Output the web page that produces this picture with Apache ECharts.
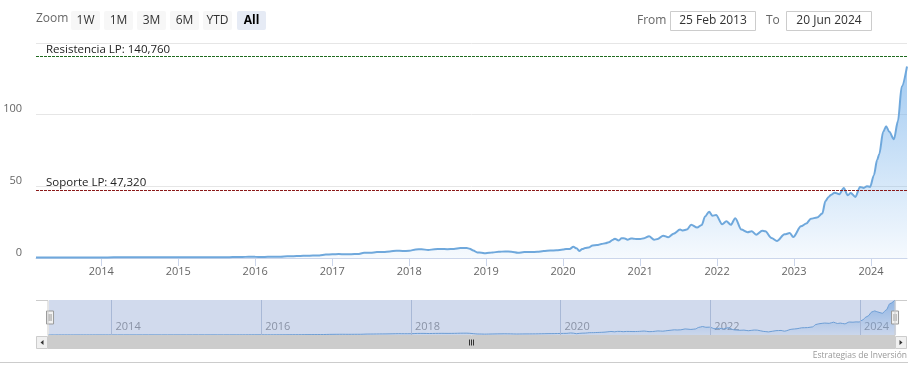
<!DOCTYPE html>
<html>
<head>
<meta charset="utf-8">
<script src="https://cdn.jsdelivr.net/npm/echarts@6/dist/echarts.min.js"></script>
<style>
html,body{margin:0;padding:0;background:#fff;}
#chart{width:914px;height:376px;}
</style>
</head>
<body>
<div id="chart"></div>
<script>
// ---- data ----
const datesEarly = ['2013-02-25','2013-04-01','2013-05-01','2013-06-01','2013-07-01','2013-08-01','2013-09-01','2013-10-01','2013-11-01','2013-12-01',
  '2014-01-01','2014-03-01','2014-05-01','2014-07-01','2014-09-01','2014-11-01',
  '2015-01-01','2015-03-01','2015-05-01','2015-07-01','2015-09-01','2015-10-01','2015-11-01','2015-12-01'];
const pricesEarly = [0.31,0.32,0.34,0.36,0.35,0.36,0.37,0.38,0.39,0.39,
  0.40,0.45,0.46,0.48,0.46,0.48,
  0.50,0.54,0.55,0.50,0.58,0.65,0.75,0.82];

const datesMid = ['2016-01-01','2016-02-01','2016-03-01','2016-04-01','2016-05-01','2016-06-01','2016-07-01','2016-08-01','2016-09-01','2016-10-01','2016-11-01','2016-12-01',
  '2017-01-01','2017-02-01','2017-03-01','2017-04-01','2017-05-01','2017-06-01','2017-07-01','2017-08-01','2017-09-01','2017-10-01','2017-11-01','2017-12-01',
  '2018-01-01','2018-02-01','2018-03-01','2018-04-01','2018-05-01','2018-06-01','2018-07-01','2018-08-01','2018-09-01','2018-10-01','2018-10-15','2018-11-01','2018-11-20','2018-12-10','2018-12-26',
  '2019-01-15','2019-02-01','2019-03-01','2019-04-01','2019-05-01','2019-06-01','2019-07-01','2019-08-01','2019-09-01','2019-10-01','2019-11-01','2019-12-01'];
const pricesMid = [0.80,0.73,0.80,0.88,0.92,1.15,1.25,1.45,1.55,1.70,1.80,2.40,
  2.65,2.75,2.60,2.70,2.80,3.60,3.70,4.10,4.20,4.60,5.10,4.90,
  5.0,6.0,6.1,5.6,6.1,6.3,6.1,6.3,6.9,7.0,6.5,5.2,3.9,3.7,3.3,
  3.6,3.9,4.3,4.6,4.4,3.7,4.1,4.2,4.3,4.8,5.2,5.4];

const dates2020 = ['2020-01-01','2020-01-15','2020-02-01','2020-02-19','2020-03-05','2020-03-18','2020-04-01','2020-04-15','2020-05-01','2020-05-20','2020-06-10','2020-07-01','2020-07-20','2020-08-05','2020-08-25','2020-09-03','2020-09-21','2020-10-05','2020-10-20','2020-11-02','2020-11-18','2020-12-01','2020-12-15'];
const prices2020 = [5.9,6.2,6.3,7.8,6.8,4.9,6.2,7.0,7.3,8.8,9.0,9.7,10.3,11.0,12.8,13.5,12.2,13.8,13.6,12.7,13.6,13.5,13.2];

const dates2122 = ['2021-01-01','2021-01-20','2021-02-12','2021-03-08','2021-03-25','2021-04-20','2021-05-14','2021-06-08','2021-07-09','2021-07-23','2021-08-10','2021-08-31','2021-09-28','2021-10-20','2021-11-05','2021-11-24','2021-12-10','2021-12-27',
  '2022-01-25','2022-02-14','2022-03-07','2022-03-28','2022-04-26','2022-05-25','2022-06-14','2022-07-05','2022-08-03','2022-08-18','2022-09-16','2022-10-12','2022-11-17','2022-12-12','2022-12-28'];
const prices2122 = [13.2,13.8,15.2,12.8,13.2,15.6,14.5,17.0,19.8,19.2,19.8,23.2,21.2,23.0,29.0,32.3,29.5,30.0,
  23.5,25.6,23.2,27.8,19.8,18.0,18.7,16.3,19.0,18.6,13.9,11.8,16.5,17.4,14.6];

const dates2324 = ['2023-02-03','2023-02-28','2023-03-22','2023-04-20','2023-05-15','2023-05-30','2023-06-14','2023-06-25','2023-07-13','2023-08-04','2023-08-25','2023-09-13','2023-09-27','2023-10-19','2023-11-10','2023-11-28','2023-12-13','2023-12-28',
  '2024-01-15','2024-01-30','2024-02-09','2024-02-28','2024-03-13','2024-03-28','2024-04-19','2024-05-08','2024-05-26','2024-06-20'];
const prices2324 = [22.1,24.0,27.4,28.2,31.0,39.8,42.6,44.0,45.6,44.5,48.9,43.8,45.4,42.6,49.6,48.9,50.1,49.6,
  57.8,68.3,72.3,88.0,92.0,88.0,82.8,95.5,119.6,133.6];

const mainYearTicks = [2014,2015,2016,2017,2018,2019,2020,2021,2022,2023,2024];
const navYearTicks = [2014,2016,2018,2020,2022,2024];
const resistance = 140.76, resistanceLabel = 'Resistencia LP: 140,760';
const support = 47.32, supportLabel = 'Soporte LP: 47,320';
const fromLabel = '25 Feb 2013', toLabel = '20 Jun 2024';
const zoomButtons = ['1W','1M','3M','6M','YTD','All'];
const creditText = 'Estrategias de Inversión';

// ---- build ----
const allDates = [].concat(datesEarly, datesMid, dates2020, dates2122, dates2324);
const allPrices = [].concat(pricesEarly, pricesMid, prices2020, prices2122, prices2324);
const seriesData = allDates.map((d, i) => [Date.parse(d + 'T00:00:00Z'), allPrices[i]]);
const xMin = Date.UTC(2013, 1, 25), xMax = Date.UTC(2024, 5, 20);
const yearTs = y => Date.UTC(y, 0, 1);
const yearFmt = v => String(new Date(v).getUTCFullYear());

const FONT = '"Open Sans", "DejaVu Sans", sans-serif';
const lineColor = '#6fa8dc';
const areaGrad = () => new echarts.graphic.LinearGradient(0, 0, 0, 1, [
  {offset: 0, color: 'rgba(124,181,236,1)'},
  {offset: 1, color: 'rgba(124,181,236,0.1)'}
]);

const graphics = [];
graphics.push({type:'text', left:36, top:13, style:{text:'Zoom', fill:'#666', font:'12px ' + FONT}});
const btnX = [71,104,137,170,203,237];
zoomButtons.forEach((b, i) => {
  const sel = b === 'All';
  graphics.push({type:'rect', shape:{x:btnX[i], y:11, width:29, height:19, r:2}, style:{fill: sel ? '#e6ebf5' : '#f7f7f7'}});
  graphics.push({type:'text', x:btnX[i] + 14.5, y:20.5, style:{text:b, fill: sel ? '#000' : '#333', font:(sel ? 'bold ' : '') + '12px ' + FONT, align:'center', verticalAlign:'middle'}});
});
graphics.push({type:'text', x:637, y:20.5, style:{text:'From', fill:'#666', font:'12px ' + FONT, verticalAlign:'middle'}});
graphics.push({type:'rect', shape:{x:670.5, y:11.5, width:85, height:19}, style:{fill:'#fff', stroke:'#cccccc', lineWidth:1}});
graphics.push({type:'text', x:713, y:21, style:{text:fromLabel, fill:'#333', font:'12px ' + FONT, align:'center', verticalAlign:'middle'}});
graphics.push({type:'text', x:766, y:20.5, style:{text:'To', fill:'#666', font:'12px ' + FONT, verticalAlign:'middle'}});
graphics.push({type:'rect', shape:{x:786.5, y:11.5, width:85, height:19}, style:{fill:'#fff', stroke:'#cccccc', lineWidth:1}});
graphics.push({type:'text', x:829, y:21, style:{text:toLabel, fill:'#333', font:'12px ' + FONT, align:'center', verticalAlign:'middle'}});
// navigator outline
graphics.push({type:'polyline', z:20, shape:{points:[[36,300.5],[48,300.5],[48,335.5],[895,335.5],[895,300.5],[907,300.5]]}, style:{stroke:'#cccccc', lineWidth:1, fill:null}});
// scrollbar
graphics.push({type:'rect', shape:{x:36, y:336, width:871, height:13}, style:{fill:'#f2f2f2'}});
graphics.push({type:'rect', shape:{x:48, y:336, width:847, height:13}, style:{fill:'#cccccc'}});
graphics.push({type:'rect', shape:{x:36.5, y:336.5, width:11, height:12}, style:{fill:'#f0f0f0', stroke:'#cccccc', lineWidth:1}});
graphics.push({type:'rect', shape:{x:895.5, y:336.5, width:11, height:12}, style:{fill:'#f0f0f0', stroke:'#cccccc', lineWidth:1}});
graphics.push({type:'polygon', shape:{points:[[43.5,340],[43.5,345],[40.5,342.5]]}, style:{fill:'#333'}});
graphics.push({type:'polygon', shape:{points:[[899.5,340],[899.5,345],[902.5,342.5]]}, style:{fill:'#333'}});
[469.5,471.5,473.5].forEach(x => graphics.push({type:'line', shape:{x1:x, y1:339.5, x2:x, y2:345.5}, style:{stroke:'#333', lineWidth:1}}));
// credit & bottom border
graphics.push({type:'text', right:7, top:351, style:{text:creditText, fill:'#999', font:'8.5px ' + FONT}});
graphics.push({type:'line', shape:{x1:0, y1:362.5, x2:908, y2:362.5}, style:{stroke:'#cccccc', lineWidth:1}});

const chart = echarts.init(document.getElementById('chart'), null, {renderer:'canvas'});
chart.setOption({
  animation: false,
  backgroundColor: '#fff',
  textStyle: {fontFamily: FONT},
  grid: [
    {left:36, right:7, top:43, bottom:118},
    {left:48, right:19, top:300, height:35}
  ],
  xAxis: [
    {
      type:'value', gridIndex:0, min:xMin, max:xMax,
      axisLine:{show:true, lineStyle:{color:'#ccd6eb'}},
      axisTick:{show:true, length:8, lineStyle:{color:'#ccd6eb'}, customValues: mainYearTicks.map(yearTs)},
      axisLabel:{color:'#666', fontSize:11, margin:8, customValues: mainYearTicks.map(yearTs), formatter: yearFmt},
      splitLine:{show:false}
    },
    {
      type:'value', gridIndex:1, min:xMin, max:xMax,
      axisLine:{show:false}, axisTick:{show:false},
      axisLabel:{inside:true, color:'#999', fontSize:11, margin:3, align:'left', padding:[0,0,0,4],
        customValues: navYearTicks.map(yearTs), formatter: yearFmt},
      splitLine:{show:false}
    }
  ],
  yAxis: [
    {
      type:'value', gridIndex:0, min:0, max:150, interval:50,
      axisLine:{show:false}, axisTick:{show:false},
      axisLabel:{color:'#666', fontSize:11, margin:14, verticalAlign:'bottom', showMaxLabel:false},
      splitLine:{show:true, lineStyle:{color:'#e6e6e6'}}
    },
    {
      type:'value', gridIndex:1, min:0, max:'dataMax',
      axisLine:{show:false}, axisTick:{show:false}, axisLabel:{show:false}, splitLine:{show:false}
    }
  ],
  dataZoom: [{
    type:'slider', xAxisIndex:0, filterMode:'none', start:0, end:100,
    left:48, right:19, top:300, height:35,
    backgroundColor:'transparent', borderColor:'transparent', borderRadius:0,
    fillerColor:'rgba(102,133,194,0.3)',
    showDataShadow:false, showDetail:false, brushSelect:false, moveHandleSize:0,
    handleIcon:'path://M0,0 L7,0 L7,13 L0,13 Z M2.5,3 L2.5,10 M4.5,3 L4.5,10',
    handleSize:13,
    handleStyle:{color:'#f2f2f2', borderColor:'#999999', borderWidth:1},
    z:10
  }],
  series: [
    {
      type:'line', xAxisIndex:0, yAxisIndex:0, data:seriesData,
      showSymbol:false, smooth:0.3, smoothMonotone:'x',
      lineStyle:{color:lineColor, width:2},
      itemStyle:{color:lineColor},
      areaStyle:{color:areaGrad()},
      silent:true,
      markLine:{
        silent:true, symbol:'none', animation:false,
        data:[
          {yAxis:resistance, lineStyle:{color:'#1f6b1f', type:[3,1], width:1},
           label:{show:true, position:'insideStartTop', formatter:resistanceLabel, color:'#222', fontSize:11.5, distance:[10,1]}},
          {yAxis:support, lineStyle:{color:'#8b1a1a', type:[3,1], width:1},
           label:{show:true, position:'insideStartTop', formatter:supportLabel, color:'#222', fontSize:11.5, distance:[10,1]}}
        ]
      }
    },
    {
      type:'line', xAxisIndex:1, yAxisIndex:1, data:seriesData,
      showSymbol:false, smooth:0.3, smoothMonotone:'x',
      lineStyle:{color:lineColor, width:1},
      itemStyle:{color:lineColor},
      areaStyle:{color:areaGrad()},
      silent:true,
      markLine:{
        silent:true, symbol:'none', animation:false, label:{show:false},
        lineStyle:{color:'#c4cedf', type:'solid', width:1},
        data: navYearTicks.map(y => ({xAxis: yearTs(y)}))
      }
    }
  ],
  graphic: graphics
});
</script>
</body>
</html>
